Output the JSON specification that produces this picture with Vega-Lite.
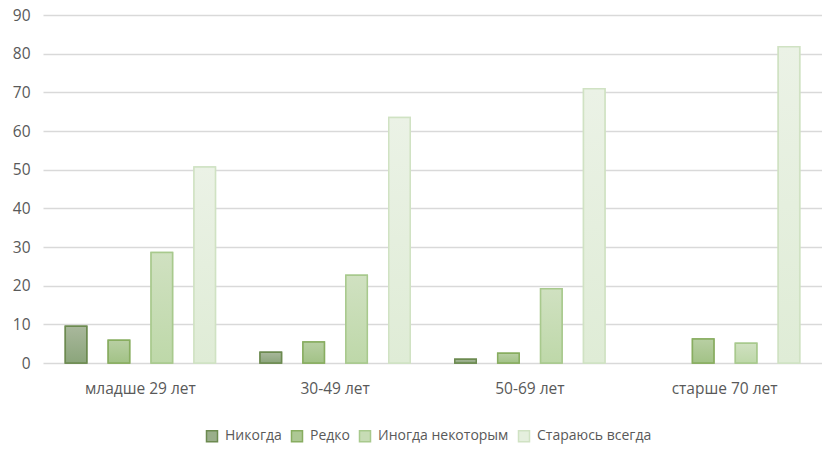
{
  "$schema": "https://vega.github.io/schema/vega-lite/v6.json",
  "width": 779,
  "height": 348,
  "autosize": {"type": "none"},
  "padding": {"left": 43, "top": 15, "right": 0, "bottom": 87},
  "background": "white",
  "config": {
    "view": {"stroke": null},
    "font": "Open Sans",
    "axis": {"labelColor": "#595959", "labelFontSize": 15.5, "labelFont": "Open Sans"},
    "legend": {"labelColor": "#595959", "labelFontSize": 14, "labelFont": "Open Sans"}
  },
  "data": {
    "values": [
      {"group": "младше 29 лет", "answer": "Никогда", "value": 9.5},
      {"group": "младше 29 лет", "answer": "Редко", "value": 5.9},
      {"group": "младше 29 лет", "answer": "Иногда некоторым", "value": 28.6},
      {"group": "младше 29 лет", "answer": "Стараюсь всегда", "value": 50.7},
      {"group": "30-49 лет", "answer": "Никогда", "value": 2.8},
      {"group": "30-49 лет", "answer": "Редко", "value": 5.4},
      {"group": "30-49 лет", "answer": "Иногда некоторым", "value": 22.7},
      {"group": "30-49 лет", "answer": "Стараюсь всегда", "value": 63.5},
      {"group": "50-69 лет", "answer": "Никогда", "value": 1.0},
      {"group": "50-69 лет", "answer": "Редко", "value": 2.5},
      {"group": "50-69 лет", "answer": "Иногда некоторым", "value": 19.2},
      {"group": "50-69 лет", "answer": "Стараюсь всегда", "value": 70.9},
      {"group": "старше 70 лет", "answer": "Редко", "value": 6.2},
      {"group": "старше 70 лет", "answer": "Иногда некоторым", "value": 5.1},
      {"group": "старше 70 лет", "answer": "Стараюсь всегда", "value": 81.8}
    ]
  },
  "encoding": {
    "x": {
      "field": "group", "type": "nominal", "sort": null,
      "scale": {"paddingInner": 0, "paddingOuter": 0},
      "axis": {"title": null, "ticks": false, "domain": false, "labelAngle": 0, "labelPadding": 18}
    },
    "xOffset": {
      "field": "answer", "type": "nominal",
      "scale": {"domain": ["Никогда", "Редко", "Иногда некоторым", "Стараюсь всегда"], "paddingInner": 0.5, "paddingOuter": 0.52}
    },
    "y": {
      "field": "value", "type": "quantitative",
      "scale": {"domain": [0, 90], "nice": false},
      "axis": {"title": null, "values": [0,10,20,30,40,50,60,70,80,90], "ticks": false, "domain": false, "labelPadding": 13, "gridColor": "#d9d9d9", "gridWidth": 1.3}
    }
  },
  "layer": [
    {
      "mark": {"type": "bar", "strokeWidth": 1.5},
      "encoding": {
        "fill": {
          "field": "answer", "type": "nominal",
          "scale": {
            "domain": ["Никогда", "Редко", "Иногда некоторым", "Стараюсь всегда"],
            "range": ["#9aae8b", "#adc894", "#c7dcb5", "#e5efde"]
          },
          "legend": {"title": null, "orient": "none", "legendX": 162, "legendY": 414, "direction": "horizontal", "symbolType": "square", "symbolSize": 121, "symbolStrokeWidth": 1.5, "columnPadding": 6, "labelOffset": 6}
        },
        "stroke": {
          "field": "answer", "type": "nominal",
          "scale": {
            "domain": ["Никогда", "Редко", "Иногда некоторым", "Стараюсь всегда"],
            "range": ["#6c8a50", "#88ad60", "#a8c98d", "#d0e2c3"]
          },
          "legend": {"title": null, "orient": "none", "legendX": 162, "legendY": 414, "direction": "horizontal", "symbolType": "square", "symbolSize": 121, "symbolStrokeWidth": 1.5, "columnPadding": 6, "labelOffset": 6}
        }
      }
    },
    {
      "transform": [{"filter": {"field": "answer", "equal": "Никогда"}}],
      "mark": {"type": "bar", "strokeWidth": 1.5, "stroke": "#6c8a50",
        "fill": {"gradient": "linear", "x1": 0, "y1": 0, "x2": 0, "y2": 1, "stops": [{"offset": 0, "color": "#a9b89c"}, {"offset": 1, "color": "#8ba57b"}]}}
    },
    {
      "transform": [{"filter": {"field": "answer", "equal": "Редко"}}],
      "mark": {"type": "bar", "strokeWidth": 1.5, "stroke": "#88ad60",
        "fill": {"gradient": "linear", "x1": 0, "y1": 0, "x2": 0, "y2": 1, "stops": [{"offset": 0, "color": "#b8cfa3"}, {"offset": 1, "color": "#a2c286"}]}}
    },
    {
      "transform": [{"filter": {"field": "answer", "equal": "Иногда некоторым"}}],
      "mark": {"type": "bar", "strokeWidth": 1.5, "stroke": "#a8c98d",
        "fill": {"gradient": "linear", "x1": 0, "y1": 0, "x2": 0, "y2": 1, "stops": [{"offset": 0, "color": "#d0e1c1"}, {"offset": 1, "color": "#bed8a9"}]}}
    },
    {
      "transform": [{"filter": {"field": "answer", "equal": "Стараюсь всегда"}}],
      "mark": {"type": "bar", "strokeWidth": 1.5, "stroke": "#d0e2c3",
        "fill": {"gradient": "linear", "x1": 0, "y1": 0, "x2": 0, "y2": 1, "stops": [{"offset": 0, "color": "#ebf2e6"}, {"offset": 1, "color": "#dfecd6"}]}}
    }
  ]
}
